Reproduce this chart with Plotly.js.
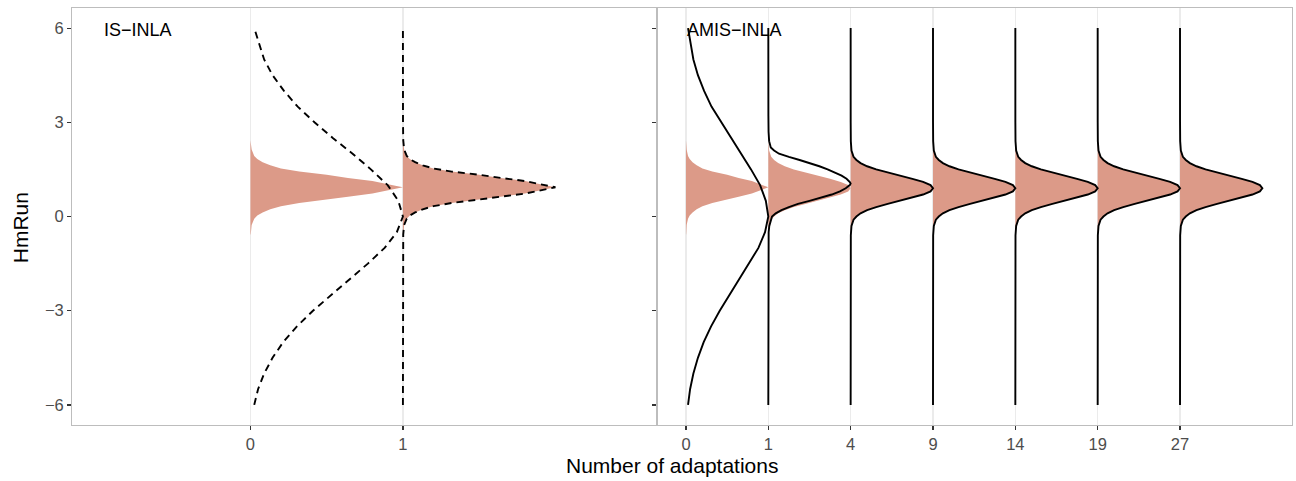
<!DOCTYPE html>
<html>
<head>
<meta charset="utf-8">
<script src="https://cdn.plot.ly/plotly-3.0.1.min.js"></script>
<style>
  html, body { margin: 0; padding: 0; background: #ffffff; }
  #chart { width: 1296px; height: 481px; }
</style>
</head>
<body>
<div id="chart"></div>
<script>
// ---- categories (tick labels) ----
const isCats = ['0', '1'];
const amisCats = ['0', '1', '4', '9', '14', '19', '27'];
const yTickVals = [-6, -3, 0, 3, 6];

// ---- density curves (HmRun value, relative width) ----
// broad initial proposal
const hmBroad = [-6, -5.5, -5, -4.5, -4, -3.5, -3, -2.5, -2, -1.5, -1, -0.5, 0, 0.5, 1, 1.5, 2, 2.5, 3, 3.5, 4, 4.5, 5, 5.5, 6];
const wBroad  = [0.025, 0.05, 0.09, 0.145, 0.215, 0.305, 0.41, 0.53, 0.65, 0.77, 0.88, 0.96, 1.0, 0.97, 0.9, 0.79, 0.67, 0.54, 0.42, 0.31, 0.22, 0.145, 0.09, 0.055, 0.025];

// narrow posterior (IS-INLA / reference)
const hmNarrow = [-6, -1, -0.57, -0.27, -0.07, 0.03, 0.13, 0.23, 0.33, 0.43, 0.53, 0.63, 0.73, 0.83, 0.88, 0.93, 0.98, 1.03, 1.13, 1.23, 1.33, 1.43, 1.53, 1.63, 1.73, 1.83, 1.93, 2.13, 2.43, 3, 6];
const wNarrow  = [0, 0.0005, 0.002, 0.008, 0.025, 0.045, 0.08, 0.13, 0.2, 0.32, 0.5, 0.64, 0.8, 0.9, 0.95, 1.0, 0.95, 0.9, 0.8, 0.64, 0.5, 0.32, 0.2, 0.13, 0.08, 0.045, 0.025, 0.008, 0.002, 0.0005, 0];

// AMIS posterior after adaptation
const hmPost = [-6, -1.2, -0.6, -0.3, -0.1, 0, 0.1, 0.2, 0.3, 0.4, 0.5, 0.6, 0.7, 0.8, 0.9, 1.0, 1.1, 1.2, 1.3, 1.4, 1.5, 1.6, 1.7, 1.8, 1.9, 2.1, 2.4, 3, 6];
const wPost  = [0, 0.0003, 0.002, 0.01, 0.035, 0.07, 0.12, 0.2, 0.31, 0.45, 0.6, 0.75, 0.88, 0.97, 1.0, 0.97, 0.88, 0.75, 0.6, 0.45, 0.31, 0.2, 0.12, 0.07, 0.035, 0.01, 0.002, 0.0003, 0];

// AMIS proposal after first adaptation
const hmProp1 = [-6, -0.8, -0.5, -0.3, -0.1, 0, 0.1, 0.2, 0.3, 0.4, 0.5, 0.6, 0.7, 0.8, 0.9, 1.0, 1.05, 1.1, 1.2, 1.3, 1.4, 1.5, 1.6, 1.7, 1.8, 1.9, 2.0, 2.1, 2.2, 2.4, 2.7, 3.2, 6];
const wProp1  = [0, 0.001, 0.004, 0.012, 0.03, 0.045, 0.09, 0.16, 0.25, 0.36, 0.5, 0.65, 0.77, 0.87, 0.94, 0.99, 1.0, 0.99, 0.95, 0.89, 0.81, 0.72, 0.62, 0.51, 0.38, 0.25, 0.13, 0.07, 0.03, 0.01, 0.003, 0.001, 0];

// which curve sits at which category
const isFillCurve  = ['narrow', 'narrow'];
const isLineCurve  = ['broad', 'narrow'];
const amisFillCurve = ['narrow', 'post', 'post', 'post', 'post', 'post', 'post'];
const amisLineCurve = ['broad', 'prop1', 'post', 'post', 'post', 'post', 'post'];

const curves = {
  broad: [hmBroad, wBroad],
  narrow: [hmNarrow, wNarrow],
  post: [hmPost, wPost],
  prop1: [hmProp1, wProp1]
};

const FILL = '#dc9a88';
const traces = [];

function addPanel(fillList, lineList, xa, ya, dash) {
  fillList.forEach((name, i) => {
    const [hm, w] = curves[name];
    // only the visible part of the density is filled
    const keep = w.map(v => v >= 0.002);
    const fx = [], fy = [];
    w.forEach((v, k) => { if (keep[k]) { fx.push(i + v); fy.push(hm[k]); } });
    traces.push({
      type: 'scatter', mode: 'lines', xaxis: xa, yaxis: ya,
      x: [i].concat(fx, [i]), y: [fy[0]].concat(fy, [fy[fy.length - 1]]),
      fill: 'toself', fillcolor: FILL,
      line: {width: 0, color: FILL}, hoverinfo: 'skip'
    });
  });
  lineList.forEach((name, i) => {
    const [hm, w] = curves[name];
    traces.push({
      type: 'scatter', mode: 'lines', xaxis: xa, yaxis: ya,
      x: w.map(v => i + v), y: hm,
      line: {width: 1.9, color: '#000000', dash: dash}, hoverinfo: 'skip'
    });
  });
}

addPanel(isFillCurve, isLineCurve, 'x', 'y', '7px,5px');
addPanel(amisFillCurve, amisLineCurve, 'x2', 'y2', 'solid');

const FONT = 'Liberation Sans, Arial, Helvetica, sans-serif';
const tickFont = {family: FONT, size: 16.5, color: '#4d4d4d'};
const split = 0.4795;

const axisCommon = {
  showline: true, mirror: true, linecolor: '#bdbdbd', linewidth: 1,
  ticks: 'outside', ticklen: 4, tickwidth: 1.2, tickcolor: '#333333',
  zeroline: false, tickfont: tickFont, fixedrange: true
};

const layout = {
  width: 1296, height: 481,
  margin: {l: 72, r: 4, t: 8, b: 56},
  paper_bgcolor: '#ffffff', plot_bgcolor: '#ffffff',
  showlegend: false, hovermode: false,
  font: {family: FONT},
  xaxis: Object.assign({}, axisCommon, {
    domain: [0, split], range: [-1.17, 2.666], anchor: 'y',
    tickmode: 'array', tickvals: isCats.map((c, i) => i), ticktext: isCats,
    showgrid: true, gridcolor: '#ebebeb', gridwidth: 1.3
  }),
  xaxis2: Object.assign({}, axisCommon, {
    domain: [split, 1], range: [-0.352, 7.36], anchor: 'y2',
    tickmode: 'array', tickvals: amisCats.map((c, i) => i), ticktext: amisCats,
    showgrid: true, gridcolor: '#ebebeb', gridwidth: 1.3
  }),
  yaxis: Object.assign({}, axisCommon, {
    domain: [0, 1], range: [-6.64, 6.64], anchor: 'x',
    tickmode: 'array', tickvals: yTickVals, ticktext: yTickVals.map(v => v < 0 ? '\u2212' + Math.abs(v) : String(v)),
    showgrid: false
  }),
  yaxis2: Object.assign({}, axisCommon, {
    domain: [0, 1], range: [-6.64, 6.64], anchor: 'x2',
    tickmode: 'array', tickvals: yTickVals, showticklabels: false,
    showgrid: false
  }),
  annotations: [
    {text: 'IS\u2212INLA', xref: 'x', yref: 'y', x: -0.974, y: 5.94, xanchor: 'left', yanchor: 'middle',
     showarrow: false, font: {family: FONT, size: 18, color: '#000000'}},
    {text: 'AMIS\u2212INLA', xref: 'x2', yref: 'y2', x: -0.01, y: 5.94, xanchor: 'left', yanchor: 'middle',
     showarrow: false, font: {family: FONT, size: 18, color: '#000000'}},
    {text: 'Number of adaptations', xref: 'paper', yref: 'paper', x: 0.4918, y: -0.097,
     xanchor: 'center', yanchor: 'middle', showarrow: false,
     font: {family: FONT, size: 21, color: '#000000'}},
    {text: 'HmRun', xref: 'paper', yref: 'paper', x: -0.0426, y: 0.472, textangle: -90,
     xanchor: 'center', yanchor: 'middle', showarrow: false,
     font: {family: FONT, size: 21, color: '#000000'}}
  ]
};

Plotly.newPlot('chart', traces, layout, {displayModeBar: false, staticPlot: true});
</script>
</body>
</html>
